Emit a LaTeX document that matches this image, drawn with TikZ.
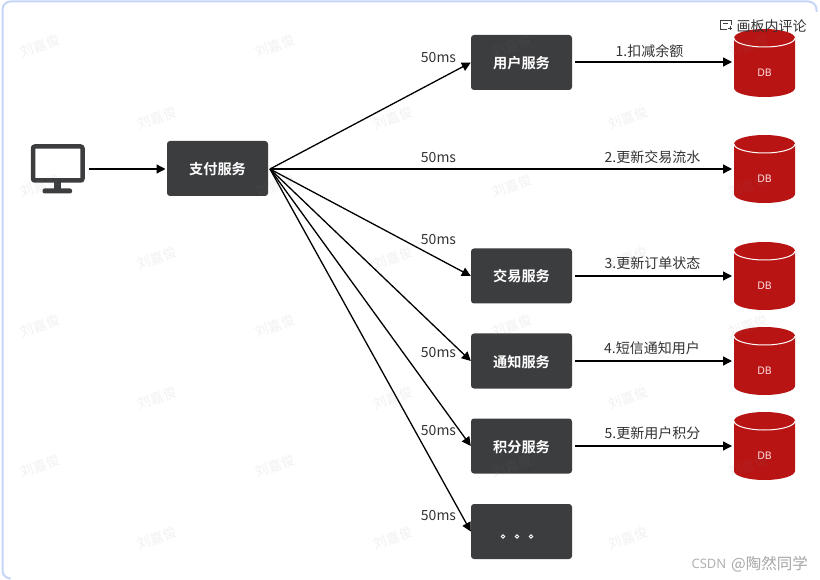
\documentclass[tikz,border=0pt]{standalone}
\usepackage{fontspec}
\setmainfont{Noto Sans}
\newfontfamily\cjk{Noto Sans CJK SC}
\newfontfamily\cjkb{Noto Sans CJK SC Bold}
\usetikzlibrary{arrows.meta,shapes.geometric}
\definecolor{boxc}{HTML}{3C3D3F}
\definecolor{dbred}{HTML}{B81414}
\definecolor{frame}{HTML}{C6D6FA}
\newcommand{\svctext}[1]{\raisebox{-6pt}[0pt][0pt]{#1}}
\tikzset{
  svc/.style={draw=none,fill=boxc,rounded corners=3pt,minimum width=101pt,minimum height=55pt,inner sep=0pt,text=white,font=\cjkb\fontsize{14.2}{16}\selectfont},
  arr/.style={draw=black,line width=1.3pt,-{Triangle[length=9pt,width=9pt]}},
  lbl/.style={font=\cjk\fontsize{14}{16}\selectfont,text=black!80,inner sep=0pt},
  wmk/.style={font=\cjk\fontsize{13.5}{15}\selectfont,text=gray,opacity=.11,rotate=20,inner sep=0pt},
  db/.pic={
    \fill[dbred] (-30.5,-25) -- (-30.5,25) arc[start angle=180,end angle=0,x radius=30.5,y radius=9] -- (30.5,-25) arc[start angle=0,end angle=-180,x radius=30.5,y radius=9] -- cycle;
    \draw[white,line width=1pt] (-30.5,-25) arc[start angle=180,end angle=0,x radius=30.5,y radius=9];
    \node[font=\fontsize{10.5}{12}\selectfont,text=white!88!red,inner sep=0pt] at (0,10) {DB};
  }
}
\begin{document}
\begin{tikzpicture}[x=1pt,y=-1pt]
\useasboundingbox (0,0) rectangle (820,580);
\fill[white] (0,0) rectangle (820,580);
\draw[draw=frame,line width=2pt,rounded corners=8pt] (9,578.5) -- (2.5,578.5) -- (2.5,1.5) -- (816.5,1.5) -- (816.5,12);
% monitor
\draw[draw=boxc,line width=4.5pt,rounded corners=2pt,fill=white] (33,146.5) rectangle (82.5,180.5);
\fill[boxc] (54,181) rectangle (61,189);
\fill[boxc,rounded corners=2pt] (42.5,188.5) rectangle (72,193.5);
\coordinate (pc) at (89,169);
% services
\node[svc] (pay) at (217.5,168.5) {\svctext{支付服务}};
\node[svc] (s1) at (521.5,62.5) {\svctext{用户服务}};
\node[svc] (s3) at (521.5,276) {\svctext{交易服务}};
\node[svc] (s4) at (521.5,361) {\svctext{通知服务}};
\node[svc] (s5) at (521.5,446) {\svctext{积分服务}};
\node[svc] (s6) at (521.5,531.5) {};
\foreach \x in {503,517,531}{\draw[white,line width=.8pt] (\x,536.5) circle (1.7);}
% DBs
\foreach \n/\y/\c in {d1/62/63,d2/169/169,d3/276/276,d4/361/361,d5/446/446}{
  \pic at (764.5,\c) {db};
  \coordinate (\n) at (732,\y);
  \coordinate (e\n) at (575,\y);
}
% arrows
\coordinate (po) at (270,169);
\coordinate (payin) at (165.5,169);
\draw[arr] (pc) -- (payin);
\foreach \t in {s1,s3,s4,s5,s6}{\draw[arr] (po) -- (\t.west);}
\draw[arr] (po) -- (d2);
\draw[arr] (ed1) -- (d1);
\draw[arr] (ed3) -- (d3);
\draw[arr] (ed4) -- (d4);
\draw[arr] (ed5) -- (d5);
% labels
\foreach \y in {58,157.5,239.5,352.5,431,516}{\node[lbl] at (438.5,\y) {50ms};}
\node[lbl] at (649.5,51.5) {1.扣减余额};
\node[lbl] at (652.5,157.5) {2.更新交易流水};
\node[lbl] at (652.5,263) {3.更新订单状态};
\node[lbl] at (652,348.5) {4.短信通知用户};
\node[lbl] at (652.5,433.5) {5.更新用户积分};
% overlay
\draw[black!75,line width=1pt] (727,29.5) -- (720.5,29.5) -- (720.5,20.5) -- (731,20.5) -- (731,25) (723,24) -- (728,24);
\draw[black!75,line width=.8pt] (728,28.5) -- (732,28.5) (730,26.5) -- (730,30.5);
\node[lbl,anchor=west] at (736.5,26) {画板内评论};
\node[font=\fontsize{13}{15}\selectfont,text=black!30,inner sep=0pt] at (709,564) {CSDN};
\node[font=\cjk\fontsize{15.5}{17}\selectfont,text=black!35,inner sep=0pt,anchor=east] at (808,564) {@陶然同学};
% watermarks
\foreach \x in {40,275,512,748}{\foreach \y in {46,186,326,466}{\node[wmk] at (\x,\y) {刘嘉俊};}}
\foreach \x in {157,393,628}{\foreach \y in {118,258,398,538}{\node[wmk] at (\x,\y) {刘嘉俊};}}
\end{tikzpicture}
\end{document}
